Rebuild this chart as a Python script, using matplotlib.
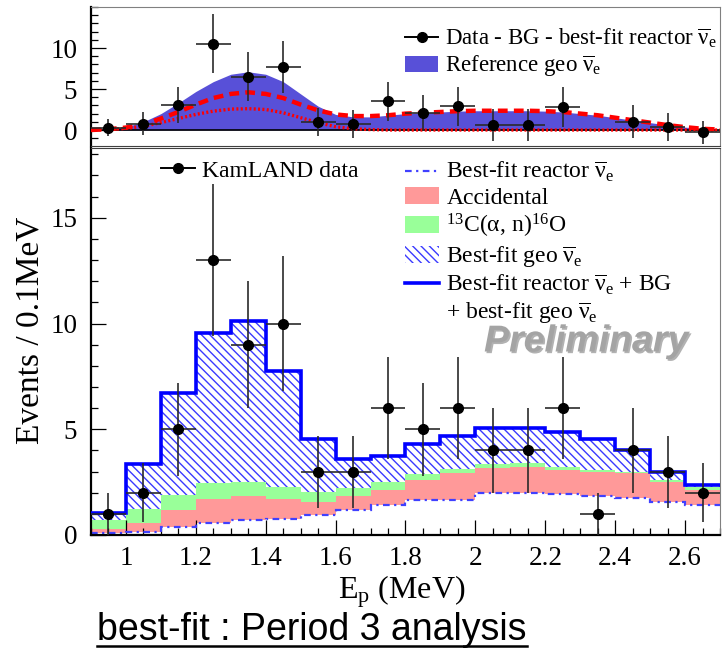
import numpy as np
import matplotlib
matplotlib.use("Agg")
import matplotlib.pyplot as plt
from matplotlib.lines import Line2D
from matplotlib.patches import Patch
import matplotlib.patheffects as pe

# ---------------- data ----------------
bin_edges_range = (0.9, 2.7)
n_bins = 18
energy_centers = [0.95, 1.05, 1.15, 1.25, 1.35, 1.45, 1.55, 1.65, 1.75,
                  1.85, 1.95, 2.05, 2.15, 2.25, 2.35, 2.45, 2.55, 2.65]
kamland_counts = [1, 2, 5, 13, 9, 10, 3, 3, 6, 5, 6, 4, 4, 6, 1, 4, 3, 2]
kamland_err = [1.0, 1.4, 2.2, 3.6, 3.0, 3.2, 1.7, 1.7, 2.4, 2.2, 2.4, 2.0,
               2.0, 2.4, 1.0, 2.0, 1.7, 1.4]
reactor = [0.10, 0.16, 0.39, 0.58, 0.70, 0.78, 0.94, 1.17, 1.40, 1.64, 1.67,
           1.98, 2.00, 1.92, 1.83, 1.77, 1.56, 1.40]
accidental = [0.17, 0.42, 0.78, 1.14, 1.14, 0.94, 0.62, 0.66, 0.74, 0.94,
              1.25, 1.19, 1.20, 1.16, 1.14, 1.15, 0.94, 0.74]
c13_alpha_n = [0.43, 0.67, 0.70, 0.73, 0.66, 0.55, 0.47, 0.40, 0.36, 0.32,
               0.20, 0.19, 0.19, 0.12, 0.11, 0.08, 0.10, 0.13]
geo_bestfit = [0.35, 2.11, 4.83, 7.08, 7.64, 5.50, 2.53, 1.37, 1.25, 1.40,
               1.57, 1.69, 1.69, 1.69, 1.48, 1.02, 0.37, 0.10]

# top panel: data - BG - best-fit reactor
subtracted = [0.3, 0.75, 3.1, 10.5, 6.5, 7.7, 0.95, 0.75, 3.5, 2.1, 2.9,
              0.6, 0.6, 2.8, -2.1, 1.0, 0.4, -0.3]
subtracted_err = [1.0, 1.4, 2.2, 3.6, 3.0, 3.2, 1.7, 1.7, 2.4, 2.2, 2.4, 2.0,
                  2.0, 2.4, 1.0, 2.0, 1.7, 1.4]
curve_energy = [0.90, 0.95, 1.00, 1.05, 1.10, 1.15, 1.20, 1.25, 1.30, 1.35,
                1.40, 1.45, 1.50, 1.55, 1.60, 1.65, 1.70, 1.75, 1.80, 1.85,
                1.90, 1.95, 2.00, 2.05, 2.10, 2.15, 2.20, 2.25, 2.30, 2.35,
                2.40, 2.45, 2.50, 2.55, 2.60, 2.65, 2.70]
reference_geo = [0.0, 0.1, 0.4, 1.0, 2.0, 3.3, 4.7, 5.9, 6.8, 7.1, 6.8, 5.9,
                 4.4, 2.9, 1.9, 1.6, 1.6, 1.8, 2.0, 2.1, 2.2, 2.3, 2.35, 2.35,
                 2.35, 2.35, 2.3, 2.2, 2.0, 1.8, 1.5, 1.2, 0.9, 0.6, 0.35,
                 0.15, 0.05]
bestfit_geo_curve = [0.0, 0.1, 0.3, 0.7, 1.4, 2.2, 3.1, 3.9, 4.4, 4.6, 4.4,
                     3.9, 3.1, 2.4, 1.9, 1.7, 1.7, 1.8, 2.0, 2.1, 2.2, 2.3,
                     2.35, 2.35, 2.35, 2.35, 2.3, 2.2, 2.0, 1.8, 1.5, 1.2,
                     0.9, 0.6, 0.35, 0.15, 0.05]
bestfit_low_curve = [0.0, 0.05, 0.2, 0.45, 0.9, 1.4, 1.9, 2.3, 2.55, 2.6, 2.5,
                     2.1, 1.5, 0.9, 0.4, 0.15, 0.05, 0.0, 0.0, 0.0, 0.0, 0.0,
                     0.0, 0.0, 0.0, 0.0, 0.0, 0.0, 0.0, 0.0, 0.0, 0.0, 0.0,
                     0.0, 0.0, 0.0, 0.0]

# ---------------- style ----------------
serif = "Liberation Serif"
plt.rcParams["font.family"] = [serif, "DejaVu Serif"]
plt.rcParams["mathtext.fontset"] = "custom"
plt.rcParams["mathtext.rm"] = serif
plt.rcParams["mathtext.it"] = serif + ":italic"
plt.rcParams["mathtext.bf"] = serif + ":bold"
plt.rcParams["hatch.linewidth"] = 1.0

caption_family = "Liberation Sans"
NU = r"$\overline{\mathrm{\nu}}_{\mathrm{e}}$"

W, H = 724, 656
fig = plt.figure(figsize=(W / 100, H / 100), dpi=100)
L, R = 91, 720
ax_top = fig.add_axes([L / W, 1 - 146 / H, (R - L) / W, (146 - 7) / H])
ax_bot = fig.add_axes([L / W, 1 - 535 / H, (R - L) / W, (535 - 148) / H])

edges = np.linspace(bin_edges_range[0], bin_edges_range[1], n_bins + 1)
r = np.array(reactor)
a = r + np.array(accidental)
g = a + np.array(c13_alpha_n)
t = g + np.array(geo_bestfit)

blue_line = "#0000ff"
hatch_col = "#3a3aff"
pink = "#ff9999"
green = "#99ff99"

# ---------------- bottom panel ----------------
ax_bot.stairs(a, edges, baseline=r, fill=True, facecolor=pink, edgecolor="none", lw=0, zorder=1)
ax_bot.stairs(g, edges, baseline=a, fill=True, facecolor=green, edgecolor="none", lw=0, zorder=1)
ax_bot.stairs(t, edges, baseline=g, fill=True, facecolor="white", edgecolor=hatch_col,
              hatch="\\\\\\\\", lw=0, zorder=1)
ax_bot.stairs(r, edges, baseline=None, color="#4040ff", lw=1.6,
              linestyle=(0, (3, 2, 1, 2)), zorder=2)
ax_bot.stairs(t, edges, baseline=None, color=blue_line, lw=2.6, zorder=3)
ax_bot.errorbar(energy_centers, kamland_counts, xerr=0.05, yerr=kamland_err,
                fmt="o", color="black", ecolor="#2a2a2a", ms=7, elinewidth=1.2,
                capsize=0, zorder=5)

ax_bot.set_xlim(*bin_edges_range)
ax_bot.set_ylim(0, 18.3)
ax_bot.set_xticks([1.0, 1.2, 1.4, 1.6, 1.8, 2.0, 2.2, 2.4, 2.6])
ax_bot.set_xticklabels(["1", "1.2", "1.4", "1.6", "1.8", "2", "2.2", "2.4", "2.6"])
ax_bot.set_xticks(np.arange(0.9, 2.701, 0.05), minor=True)
ax_bot.set_yticks([0, 5, 10, 15])
ax_bot.set_yticks(np.arange(0, 18.5, 1), minor=True)

for ax in (ax_top, ax_bot):
    ax.tick_params(which="both", direction="in", top=False, right=False,
                   labelsize=19.5, width=0.9, color="black")
    ax.tick_params(which="major", length=10.5, pad=10)
    ax.tick_params(which="minor", length=5)
    ax.spines["left"].set_linewidth(1.6)
    ax.spines["left"].set_color("black")
    for s in ("top", "right"):
        ax.spines[s].set_linewidth(0.8)
        ax.spines[s].set_color("#808080")

ax_bot.tick_params(axis="x", which="major", pad=8)
ax_bot.spines["bottom"].set_linewidth(1.6)
ax_bot.spines["top"].set_color("#404040")

# ---------------- top panel ----------------
ylo_top, yhi_top = -1.95, 15.0
ax_top.fill_between(curve_energy, reference_geo, 0, color="#5850d8", lw=0, zorder=1)
ax_top.axhline(0, color="black", lw=1.2, zorder=2)
ax_top.plot(curve_energy, bestfit_low_curve, color="red", lw=2.4,
            linestyle=(0, (0.6, 0.7)), zorder=3)
ax_top.plot(curve_energy, bestfit_geo_curve, color="red", lw=3.2,
            linestyle=(0, (2.2, 1.4)), zorder=3)
# points lying outside the frame are not drawn (as in the original)
inside = [i for i, v in enumerate(subtracted) if ylo_top <= v <= yhi_top]
ax_top.errorbar([energy_centers[i] for i in inside], [subtracted[i] for i in inside],
                xerr=0.05, yerr=[subtracted_err[i] for i in inside],
                fmt="o", color="black", ecolor="#2a2a2a", ms=7, elinewidth=1.2,
                capsize=0, zorder=5)
ax_top.set_xlim(*bin_edges_range)
ax_top.set_ylim(ylo_top, yhi_top)
ax_top.set_yticks([0, 5, 10])
ax_top.set_yticks(np.arange(-1, 15.5, 1), minor=True)
ax_top.tick_params(axis="x", which="both", bottom=False, labelbottom=False)
ax_top.spines["bottom"].set_linewidth(0.8)
ax_top.spines["bottom"].set_color("#404040")

# ---------------- legends ----------------
leg_kw = dict(frameon=False, fontsize=17, borderpad=0, borderaxespad=0,
              handlelength=1.45, handletextpad=0.3, labelspacing=0.14)

top_kw = dict(leg_kw)
top_kw["fontsize"] = 16.5
top_handles = [Line2D([0], [0], color="black", marker="o", ms=7, lw=1.4),
               Patch(facecolor="#5850d8", edgecolor="none")]
top_labels = ["Data - BG - best-fit reactor " + NU, "Reference geo " + NU]
leg_top = fig.legend(top_handles, top_labels, loc="upper left",
                     bbox_to_anchor=(405 / W, 1 - 26 / H), **top_kw)

kl_handles = [Line2D([0], [0], color="black", marker="o", ms=7, lw=1.4)]
leg_kl = fig.legend(kl_handles, ["KamLAND data"], loc="upper left",
                    bbox_to_anchor=(161 / W, 1 - 160 / H), **leg_kw)

bot_handles = [
    Line2D([0], [0], color="#4040ff", lw=1.6, linestyle=(0, (3, 2, 1, 2))),
    Patch(facecolor=pink, edgecolor="none"),
    Patch(facecolor=green, edgecolor="none"),
    Patch(facecolor="white", edgecolor=hatch_col, hatch="\\\\\\\\", lw=0),
    Line2D([0], [0], color=blue_line, lw=2.6),
    Line2D([0], [0], color="none"),
]
bot_labels = [
    "Best-fit reactor " + NU,
    "Accidental",
    r"$^{13}\mathrm{C}(\mathrm{\alpha,\,n})^{16}\mathrm{O}$",
    "Best-fit geo " + NU,
    "Best-fit reactor " + NU + " + BG",
    "+ best-fit geo " + NU,
]
leg_bot = fig.legend(bot_handles, bot_labels, loc="upper left",
                     bbox_to_anchor=(405 / W, 1 - 160 / H), **leg_kw)

# ---------------- texts ----------------
ax_bot.text(2.317, 9.15, "Preliminary", ha="center", va="center", fontsize=27,
            fontweight="bold", style="italic", color="#a4a4a4",
            family="Liberation Sans", zorder=6,
            path_effects=[pe.withSimplePatchShadow(offset=(1.2, -1.2),
                                                   shadow_rgbFace="#555555", alpha=0.45)])

fig.text(30 / W, 1 - 330 / H, "Events / 0.1MeV", rotation=90, ha="center",
         va="center", fontsize=24)
fig.text(402 / W, 1 - 598 / H, r"$\mathrm{E_p}$ (MeV)", ha="center",
         va="baseline", fontsize=23)

cap = fig.text(97 / W, 1 - 640 / H, "best-fit : Period 3 analysis", ha="left",
               va="baseline", fontsize=27, family=caption_family, color="black")
fig.canvas.draw()
bb = cap.get_window_extent()
y_ul = 1 - 646 / H
fig.add_artist(Line2D([bb.x0 / W, bb.x1 / W], [y_ul, y_ul], color="black",
                      lw=1.8, transform=fig.transFigure))

fig.savefig("out.png", dpi=100)
